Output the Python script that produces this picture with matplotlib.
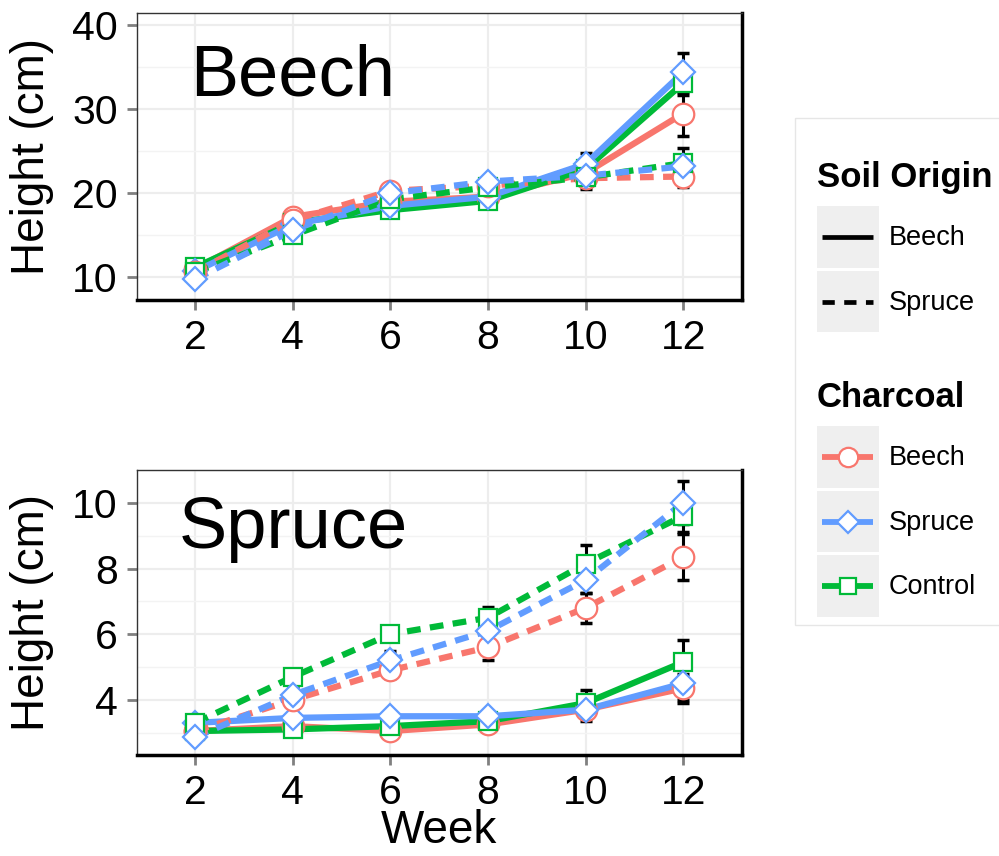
import matplotlib.pyplot as plt
from matplotlib.patches import Rectangle
from matplotlib.ticker import MultipleLocator

plt.rcParams['font.family'] = ['Liberation Sans', 'DejaVu Sans']

weeks = [2, 4, 6, 8, 10, 12]
charcoal_types = ["Beech", "Spruce", "Control"]
soil_types = ["Beech", "Spruce"]

# Beech seedlings, mean height (cm) and SE
# soil origin Beech
bb_beech = [11.0, 17.2, 19.0, 19.6, 22.4, 29.5]
bb_spruce = [10.7, 16.3, 18.5, 19.6, 23.5, 34.4]
bb_control = [11.2, 16.5, 18.0, 19.1, 22.9, 33.1]
bb_beech_se = [0.5, 0.6, 0.6, 0.6, 1.0, 2.7]
bb_spruce_se = [0.5, 0.6, 0.6, 0.6, 1.3, 2.3]
bb_control_se = [0.5, 0.6, 0.8, 0.7, 1.2, 1.4]
# soil origin Spruce
bs_beech = [10.6, 16.8, 20.3, 20.9, 21.8, 22.0]
bs_spruce = [9.8, 15.6, 20.0, 21.4, 22.1, 23.2]
bs_control = [10.6, 15.0, 19.3, 20.7, 21.9, 23.6]
bs_beech_se = [0.4, 0.5, 0.6, 0.6, 1.3, 1.2]
bs_spruce_se = [0.4, 0.5, 0.6, 0.6, 0.9, 1.4]
bs_control_se = [0.4, 0.5, 0.6, 0.6, 1.0, 1.8]

# Spruce seedlings
# soil origin Beech
sb_beech = [3.05, 3.2, 3.05, 3.25, 3.7, 4.35]
sb_spruce = [3.3, 3.45, 3.5, 3.5, 3.7, 4.5]
sb_control = [3.05, 3.1, 3.2, 3.35, 3.9, 5.15]
sb_beech_se = [0.1, 0.1, 0.1, 0.1, 0.2, 0.45]
sb_spruce_se = [0.1, 0.1, 0.1, 0.1, 0.35, 0.5]
sb_control_se = [0.1, 0.1, 0.15, 0.15, 0.4, 0.68]
# soil origin Spruce
ss_beech = [3.05, 4.0, 4.9, 5.6, 6.8, 8.35]
ss_spruce = [2.86, 4.15, 5.2, 6.1, 7.65, 10.0]
ss_control = [3.3, 4.7, 6.0, 6.5, 8.15, 9.6]
ss_beech_se = [0.1, 0.2, 0.25, 0.38, 0.46, 0.7]
ss_spruce_se = [0.1, 0.2, 0.3, 0.3, 0.4, 0.65]
ss_control_se = [0.1, 0.2, 0.2, 0.34, 0.58, 0.5]

panels = [
    ("Beech", (7.3, 41.5), [10, 20, 30, 40], 5, 31.6,
     {"Beech": [bb_beech, bb_spruce, bb_control],
      "Spruce": [bs_beech, bs_spruce, bs_control]},
     {"Beech": [bb_beech_se, bb_spruce_se, bb_control_se],
      "Spruce": [bs_beech_se, bs_spruce_se, bs_control_se]}),
    ("Spruce", (2.32, 11.0), [4, 6, 8, 10], 1, 8.63,
     {"Beech": [sb_beech, sb_spruce, sb_control],
      "Spruce": [ss_beech, ss_spruce, ss_control]},
     {"Beech": [sb_beech_se, sb_spruce_se, sb_control_se],
      "Spruce": [ss_beech_se, ss_spruce_se, ss_control_se]}),
]

colors = {"Beech": "#F8766D", "Spruce": "#619CFF", "Control": "#00BA38"}
markers = {"Beech": "o", "Spruce": "D", "Control": "s"}
msizes = {"Beech": 15.5, "Spruce": 12.5, "Control": 13}
styles = {"Beech": "-", "Spruce": (0, (2.2, 1.5))}
key_styles = {"Beech": "-", "Spruce": (0, (2.6, 2.0))}
draw_order = ["Beech", "Control", "Spruce"]

W, H = 999, 856
fig = plt.figure(figsize=(W / 100, H / 100), dpi=100)

ax_rects = [
    [136.7 / W, 1 - 300 / H, 605 / W, 287.3 / H],
    [136.7 / W, 1 - 755 / H, 605 / W, 285 / H],
]

for rect, (name, ylim, yticks, minor, label_y, means, ses) in zip(ax_rects, panels):
    ax = fig.add_axes(rect)
    ax.set_xlim(0.8, 13.2)
    ax.set_ylim(*ylim)

    # error bars below the lines, points on top
    for s in soil_types:
        for c in draw_order:
            i = charcoal_types.index(c)
            ax.errorbar(weeks, means[s][i], yerr=ses[s][i], fmt="none",
                        ecolor="black", elinewidth=2.2, capsize=4,
                        capthick=2.5, zorder=2)
    for s in soil_types:
        for c in draw_order:
            i = charcoal_types.index(c)
            ax.plot(weeks, means[s][i], color=colors[c], linestyle=styles[s],
                    lw=4.5, solid_capstyle="butt", dash_capstyle="butt", zorder=3)
    for s in soil_types:
        for c in draw_order:
            i = charcoal_types.index(c)
            ax.plot(weeks, means[s][i], linestyle="none", marker=markers[c],
                    ms=msizes[c], mfc="white", mec=colors[c], mew=1.6, zorder=4)

    ax.text(4, label_y, name, fontsize=52, ha="center", va="baseline", zorder=5)

    ax.set_xticks(weeks)
    ax.set_yticks(yticks)
    ax.yaxis.set_minor_locator(MultipleLocator(minor))
    ax.grid(which="major", color="#EDEDED", lw=1.6, zorder=0)
    ax.grid(which="minor", axis="y", color="#F3F3F3", lw=1.0, zorder=0)
    ax.set_axisbelow(True)
    ax.tick_params(which="major", length=7.5, width=2, color="#808080",
                   labelsize=29.5, pad=6)
    ax.tick_params(which="minor", length=0)
    for side in ["left", "top"]:
        ax.spines[side].set_linewidth(1.0)
        ax.spines[side].set_color("#333333")
    for side in ["right", "bottom"]:
        ax.spines[side].set_linewidth(2.5)
        ax.spines[side].set_color("black")

    ax.set_ylabel("Height (cm)", fontsize=33)
    ax.yaxis.set_label_coords(-0.137, 0.5)
    if name == "Spruce":
        ax.set_xlabel("Week", fontsize=33)
        ax.xaxis.set_label_coords(0.5, -0.19)

# legend panel, laid out in pixel coordinates
lax = fig.add_axes([0, 0, 1, 1])
lax.set_xlim(0, W)
lax.set_ylim(H, 0)
lax.axis("off")
lax.add_patch(Rectangle((795, 118), 220, 507, fill=False,
                        edgecolor="#E6E6E6", lw=1))

lax.text(817, 186.7, "Soil Origin", fontsize=25, fontweight="bold", va="baseline")
for k, s in enumerate(soil_types):
    y0 = 206 + k * 64.5
    lax.add_patch(Rectangle((817, y0), 61.5, 61.5, color="#EFEFEF", lw=0))
    lax.plot([822, 873], [y0 + 31, y0 + 31], color="black", lw=3.4,
             linestyle=key_styles[s], solid_capstyle="butt", dash_capstyle="butt")
    lax.text(889, y0 + 32, s, fontsize=19.5, va="center")

lax.text(817, 406.7, "Charcoal", fontsize=25, fontweight="bold", va="baseline")
for k, c in enumerate(charcoal_types):
    y0 = 426 + k * 64.5
    lax.add_patch(Rectangle((817, y0), 61.5, 61.5, color="#EFEFEF", lw=0))
    lax.plot([822, 873], [y0 + 31, y0 + 31], color=colors[c], lw=4.2,
             solid_capstyle="butt")
    lax.plot([847.5], [y0 + 31], marker=markers[c], ms=msizes[c] * 0.9,
             mfc="white", mec=colors[c], mew=1.6)
    lax.text(889, y0 + 32, c, fontsize=19.5, va="center")

fig.savefig("out.png", dpi=100)
